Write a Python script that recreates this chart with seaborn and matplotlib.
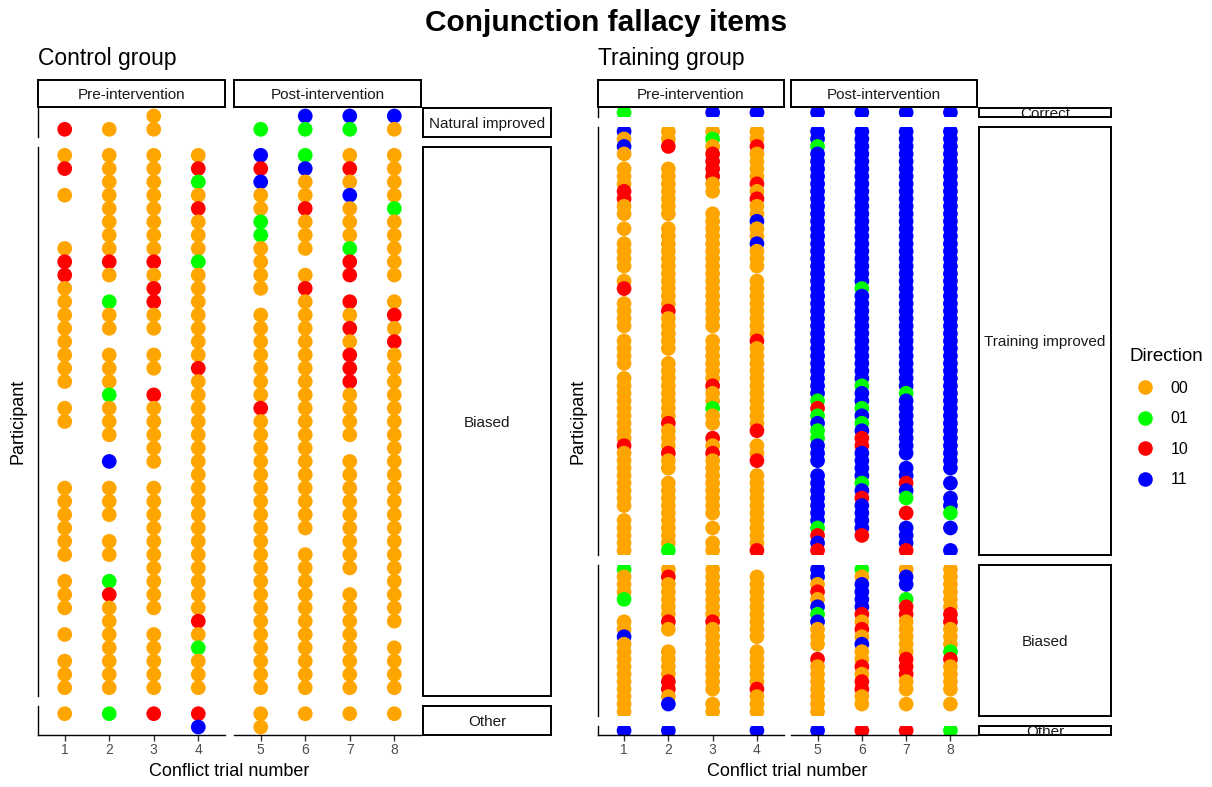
import pandas as pd
import seaborn as sns
import matplotlib.pyplot as plt
from matplotlib.lines import Line2D

# direction codes per participant (top to bottom), one string per trial 1..8
# "0" = 00, "1" = 01, "2" = 10, "3" = 11, "." = no answer
trials = [1, 2, 3, 4, 5, 6, 7, 8]
directions = ["00", "01", "10", "11"]
colours = ["#FFA500", "#00FF00", "#FF0000", "#0000FF"]

ctrl_natural = [".2", ".0", "00", "..", ".1", "31", "31", "30"]
ctrl_biased = [
    "02.0...02200000000.00....000000.000.0.000",
    "0000000020.100.0001000.3.000.00.120000000",
    "00000000202200.00.200000.0000000000.00000",
    "02102000100000002" "000000000000000000" "201000",
    "32300110000.00000002" "0000000000" "0000000000" "0",
    "13002000.02" "000000000000000000" "." "00000000000",
    "0203000122.20202220000.000000000.00000000",
    "0000100000.0202" "0000000000" "0000000000" "0" ".0000",
]
ctrl_other = ["0.", "1.", "2.", "23", "00", "0.", "0.", "0."]

train_correct = ["1", ".", "3", "3", "3", "3", "3", "3"]
train_improved = [
    "3030.0002200.0.0000.02.0000.0000.000000000200000000.00000",
    "002.." "0000000" "." "00000000000" "2" "00000" "." "00000000" "2" "000" "2" "00" "." "000000000" "1",
    "010" "2222" "00" ".." "0000000000" "000000" "." "000000" "2" "00" "1" "00" "." "2" "0" "2" "00000000" "." "0" "." "00",
    "002" "0000" "202" "00" "3" "00" "3" "000" "." "00000000" "2" "00000000000" "2" "." "00" "2" "." "0000000000" "2",
    "33" "1" "3333333333" "3333333333" "3333333333" "333" "1" "2" "1" "3" "11" "333" "." "3333333" "1" "2" "3" "2",
    "3333333333" "3333333333" "3" "1" "3333333333" "33" "1" "33" "1" "3" "1" "3" "22" "3333" "1" "3" "2" "3333" "2" "..",
    "3333333333" "3333333333" "3333333333" "33333" "1" "33333333" "." "33" "2" "3" "1" "." "2" "." "333" "2",
    "3333333333" "3333333333" "3333333333" "3333333333" "333333" "." "3" "." "33" "1" "." "3" ".." "3",
]
train_biased = [
    "1" "000" "1" ".." "00" "3" "0000000000",
    "0" "2" "00000" "2" "0" ".." "0000" "22" "0" "3" ".",
    "0000000" "2" "000000000" "." "00",
    "." "000000000" "." "00000" "2" "000",
    "33" "0" "2" "0" "3" "1" "3" "000" "." "2" "0000000",
    "1" "0" "3333" "2" "0" "2" "0" "3" "00" "2" "0" "22" "00" ".",
    "0" "33" "." "1" "22" "00000" "222" "00" "." "0" ".",
    "000000" "22" "000" "1" "2" "0000" "." "0" ".",
]
train_other = ["3", "3", ".", "3", "3", "2", "2", "1"]

groups = [
    {"title": "Control group",
     "rows": [("Natural improved", ctrl_natural), ("Biased", ctrl_biased), ("Other", ctrl_other)],
     "pre": (38, 225), "post": (234, 421), "strip": (423, 551)},
    {"title": "Training group",
     "rows": [("Correct", train_correct), ("Training improved", train_improved),
              ("Biased", train_biased), ("Other", train_other)],
     "pre": (597.5, 783.5), "post": (791, 977), "strip": (979, 1111)},
]

sns.set_theme(style="white")
plt.rcParams["font.family"] = ["Liberation Sans", "DejaVu Sans"]
plt.rcParams["text.color"] = "black"

W, H = 1212, 787
fig = plt.figure(figsize=(W / 100, H / 100), dpi=100)
palette = dict(zip(directions, colours))


def px_axes(x0, y0, x1, y1):
    return fig.add_axes([x0 / W, 1 - y1 / H, (x1 - x0) / W, (y1 - y0) / H])


def strip_box(x0, y0, x1, y1, label, size):
    ax = px_axes(x0, y0, x1, y1)
    ax.set_xticks([])
    ax.set_yticks([])
    for s in ax.spines.values():
        s.set_visible(True)
        s.set_color("black")
        s.set_linewidth(1.4)
    ax.text(0.5, 0.5, label, ha="center", va="center_baseline", fontsize=size,
            color="#1A1A1A", transform=ax.transAxes, clip_on=True)


top, bottom, gap = 108, 735, 10

for g in groups:
    sizes = [len(r[1][0]) for r in g["rows"]]
    units = [n - 1 + 1.2 for n in sizes]
    scale = (bottom - top - gap * (len(units) - 1)) / sum(units)
    y0 = top
    for i, ((label, data), n) in enumerate(zip(g["rows"], sizes)):
        y1 = y0 + units[i] * scale
        recs = []
        for t, col in zip(trials, data):
            for p, c in enumerate(col):
                if c != ".":
                    recs.append({"trial": t, "row": p, "dir": directions[int(c)]})
        df = pd.DataFrame(recs)
        last = i == len(sizes) - 1
        for j, (key, tr) in enumerate([("pre", trials[:4]), ("post", trials[4:])]):
            cx0, cx1 = g[key]
            ax = px_axes(cx0, y0, cx1, y1)
            sub = df[df["trial"].isin(tr)]
            if len(sub):
                sns.scatterplot(data=sub, x="trial", y="row", hue="dir", palette=palette,
                                s=112, linewidth=0, legend=False, ax=ax)
            ax.set_xlim(tr[0] - 0.6, tr[-1] + 0.6)
            ax.set_ylim(n - 1 + 0.6, -0.6)
            ax.set_xlabel("")
            ax.set_ylabel("")
            ax.set_yticks([])
            for s in ax.spines.values():
                s.set_visible(False)
            if j == 0:
                ax.spines["left"].set_visible(True)
                ax.spines["left"].set_color("black")
                ax.spines["left"].set_linewidth(1.0)
            if last:
                ax.spines["bottom"].set_visible(True)
                ax.spines["bottom"].set_color("black")
                ax.spines["bottom"].set_linewidth(1.0)
                ax.set_xticks(tr)
                ax.tick_params(axis="x", bottom=True, length=4, width=1, color="#333333",
                               labelsize=10, labelcolor="#4D4D4D", pad=2)
            else:
                ax.set_xticks([])
        strip_box(g["strip"][0], y0, g["strip"][1], y1, label, 11)
        y0 = y1 + gap

    # top strips
    strip_box(g["pre"][0], 80, g["pre"][1], 107, "Pre-intervention", 11)
    strip_box(g["post"][0], 80, g["post"][1], 107, "Post-intervention", 11)

    left = g["pre"][0]
    fig.text(left / W, 1 - 58 / H, g["title"], fontsize=16.5, ha="left", va="center")
    fig.text((left + g["post"][1]) / 2 / W, 1 - 772 / H, "Conflict trial number",
             fontsize=13, ha="center", va="center")
    fig.text((left - 20) / W, 1 - 421 / H, "Participant", fontsize=13,
             rotation=90, ha="center", va="center")

fig.suptitle("Conjunction fallacy items", x=0.5, y=1 - 23 / H, fontsize=21.5,
             fontweight="bold", va="center", color="black")

handles = [Line2D([], [], marker="o", ls="", color=c, markersize=10.5, markeredgewidth=0)
           for c in colours]
leg = fig.legend(handles, directions, title="Direction", loc="upper left",
                 bbox_to_anchor=(1118 / W, 1 - 337 / H), frameon=False, fontsize=11.5,
                 title_fontsize=13.5, labelspacing=0.97, handletextpad=0.6,
                 borderaxespad=0.3, alignment="left")

plt.savefig("out.png", dpi=100)
